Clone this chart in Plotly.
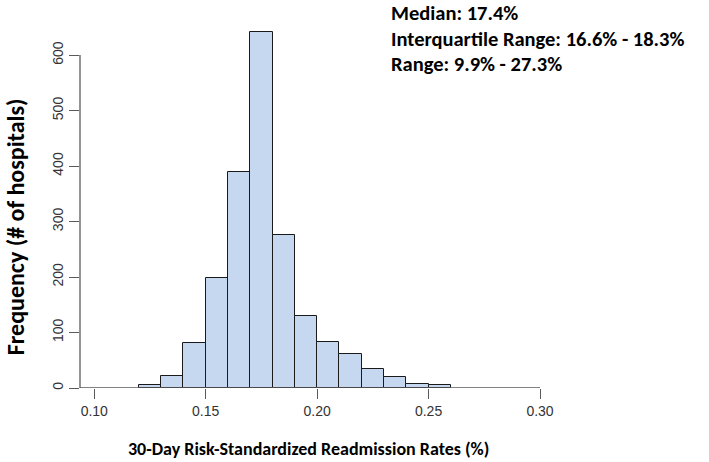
import plotly.graph_objects as go

# Data
bin_starts = [0.12, 0.13, 0.14, 0.15, 0.16, 0.17, 0.18, 0.19, 0.20, 0.21, 0.22, 0.23, 0.24, 0.25]
counts = [6, 22, 82, 198, 390, 642, 275, 130, 83, 61, 35, 19, 7, 6]
bin_width = 0.01
x_ticks = [0.10, 0.15, 0.20, 0.25, 0.30]
x_tick_labels = ["0.10", "0.15", "0.20", "0.25", "0.30"]
y_ticks = [0, 100, 200, 300, 400, 500, 600]
stats_lines = ["Median: 17.4%", "Interquartile Range: 16.6% - 18.3%", "Range: 9.9% - 27.3%"]

W, H = 709, 462
L, T = 80, 20
R = W - 540.3
B = H - 387.7
pw = W - L - R
ph = H - T - B

centers = [s + bin_width / 2 for s in bin_starts]

fig = go.Figure()
fig.add_trace(go.Bar(
    x=centers, y=counts, width=[bin_width] * len(counts),
    marker=dict(color="#c6d8ef", line=dict(color="#1a1a1a", width=1)),
    hoverinfo="skip",
))

axis_col = "#5a5a5a"
tick_font = dict(family="Liberation Sans, Arial, sans-serif", size=14, color="#333333")

fig.update_layout(
    width=W, height=H,
    margin=dict(l=L, r=R, t=T, b=B, pad=0, autoexpand=False),
    paper_bgcolor="white", plot_bgcolor="white",
    showlegend=False, bargap=0,
    xaxis=dict(range=[0.0936, 0.30], tickvals=x_ticks, ticktext=x_tick_labels,
               ticks="outside", ticklen=10, tickcolor=axis_col, tickwidth=1.3,
               showgrid=False, zeroline=False, showline=False, automargin=False,
               tickfont=tick_font),
    yaxis=dict(range=[0, 663.3], tickvals=y_ticks, tickangle=-90,
               ticks="outside", ticklen=10, tickcolor=axis_col, tickwidth=1.3,
               showgrid=False, zeroline=False, showline=False, automargin=False,
               tickfont=tick_font),
)

# axis lines
fig.add_shape(type="line", xref="paper", yref="y", x0=0, x1=0, y0=0, y1=600,
              line=dict(color=axis_col, width=1.3))
fig.add_shape(type="line", xref="paper", yref="y", x0=0, x1=1, y0=0, y1=0,
              line=dict(color=axis_col, width=1.3))

def px_x(px):
    return (px - L) / pw

def px_y(py):
    return (H - B - py) / ph

fam = "Carlito, Open Sans, sans-serif"
fig.add_annotation(text="<b>30-Day Risk-Standardized Readmission Rates (%)</b>",
                   xref="paper", yref="paper", x=px_x(309), y=px_y(449),
                   xanchor="center", yanchor="middle", showarrow=False,
                   font=dict(family=fam, size=18, color="black"))
fig.add_annotation(text="<b>Frequency (# of hospitals)</b>",
                   xref="paper", yref="paper", x=px_x(15), y=px_y(227), textangle=-90,
                   xanchor="center", yanchor="middle", showarrow=False, borderpad=0,
                   font=dict(family=fam, size=24, color="black"))

stats_y = [13.5, 38.5, 63.5]
for line, yy in zip(stats_lines, stats_y):
    fig.add_annotation(text="<b>" + line + "</b>",
                       xref="paper", yref="paper", x=px_x(390), y=px_y(yy),
                       xanchor="left", yanchor="middle", showarrow=False, borderpad=0,
                       font=dict(family=fam, size=20.5, color="black"))

fig.write_html("out.html", config={"displayModeBar": False},
               post_script="document.body.style.margin='0';")
